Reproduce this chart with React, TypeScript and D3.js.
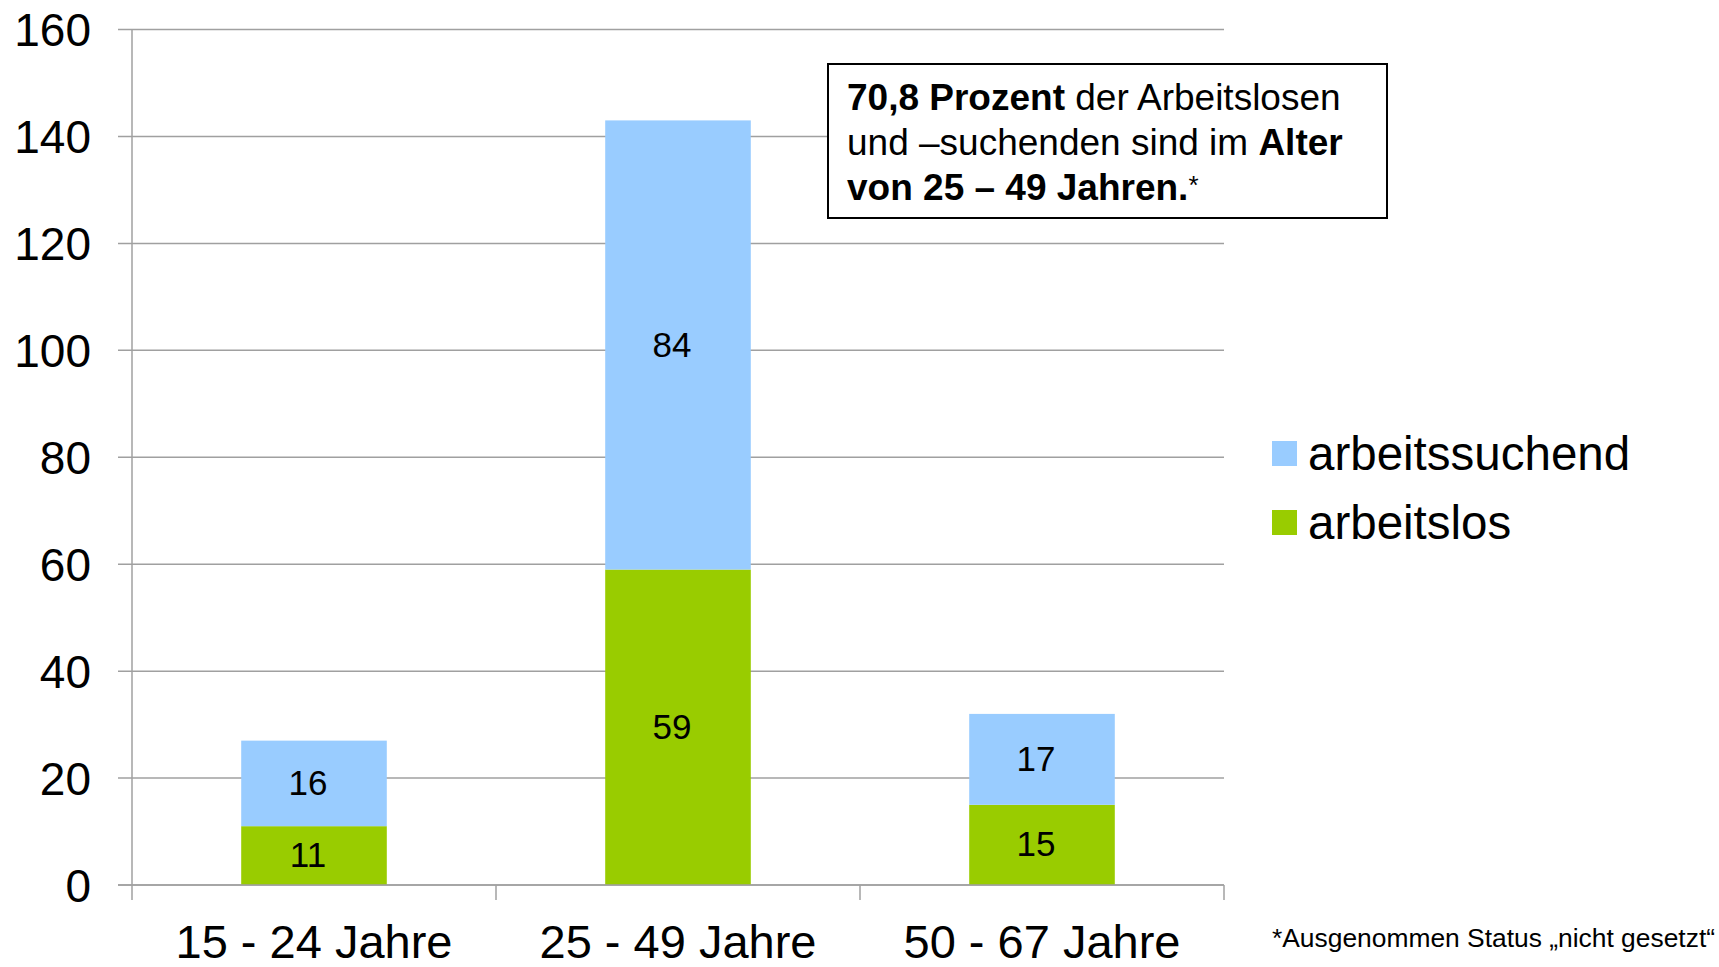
import * as d3 from "d3";
import React from "react";

const categories = ["15 - 24 Jahre", "25 - 49 Jahre", "50 - 67 Jahre"];
const arbeitslos = [11, 59, 15];
const arbeitssuchend = [16, 84, 17];
const yTicks = [0, 20, 40, 60, 80, 100, 120, 140, 160];

const series = [
  { key: "arbeitslos", label: "arbeitslos", values: arbeitslos, color: "#99CC00" },
  { key: "arbeitssuchend", label: "arbeitssuchend", values: arbeitssuchend, color: "#99CCFF" },
];

const W = 1719;
const H = 967;
const FONT = "'Liberation Sans', Arial, sans-serif";

export default function App() {
  const left = 132;
  const right = 1224;
  const top = 29.5;
  const bottom = 885;

  const x = d3.scaleBand<string>().domain(categories).range([left, right]).padding(0);
  const y = d3.scaleLinear().domain([0, 160]).range([bottom, top]);
  const barW = x.bandwidth() * 0.4;

  const rows = categories.map((c, i) => ({ cat: c, arbeitslos: arbeitslos[i], arbeitssuchend: arbeitssuchend[i] }));
  const stacked = d3.stack<any>().keys(series.map((s) => s.key))(rows);

  const legend = [...series].reverse();

  return (
    <svg
      width={W}
      height={H}
      style={{ position: "absolute", left: 0, top: 0, background: "#fff", fontFamily: FONT }}
    >
      {/* grid */}
      {yTicks.map((t) => (
        <g key={t}>
          <line x1={118} x2={right} y1={y(t)} y2={y(t)} stroke="#A0A0A0" strokeWidth={1.5} />
          <text x={91} y={y(t)} dy="0.36em" textAnchor="end" fontSize={46} fill="#000">
            {t}
          </text>
        </g>
      ))}
      <line x1={left} x2={left} y1={top} y2={bottom + 15} stroke="#A0A0A0" strokeWidth={1.5} />
      {categories.map((c) => (
        <line
          key={c}
          x1={(x(c) as number) + x.bandwidth()}
          x2={(x(c) as number) + x.bandwidth()}
          y1={bottom}
          y2={bottom + 15}
          stroke="#A0A0A0"
          strokeWidth={1.5}
        />
      ))}

      {/* bars */}
      {stacked.map((layer, li) => (
        <g key={layer.key} fill={series[li].color}>
          {layer.map((d, i) => {
            const cx = (x(categories[i]) as number) + x.bandwidth() / 2;
            return (
              <g key={i}>
                <rect x={cx - barW / 2} y={y(d[1])} width={barW} height={y(d[0]) - y(d[1])} />
                <text
                  x={cx - 6}
                  y={(y(d[0]) + y(d[1])) / 2}
                  dy="0.33em"
                  textAnchor="middle"
                  fontSize={35}
                  fill="#000"
                >
                  {d[1] - d[0]}
                </text>
              </g>
            );
          })}
        </g>
      ))}
      <line x1={118} x2={right} y1={bottom} y2={bottom} stroke="#A0A0A0" strokeWidth={1.5} />

      {/* x labels */}
      {categories.map((c) => (
        <text key={c} x={(x(c) as number) + x.bandwidth() / 2} y={958} textAnchor="middle" fontSize={47} fill="#000">
          {c}
        </text>
      ))}

      {/* annotation */}
      <rect x={828} y={64} width={559} height={154} fill="#fff" stroke="#000" strokeWidth={2} />
      <text x={847} y={110} fontSize={37} fill="#000">
        <tspan fontWeight="bold">70,8 Prozent</tspan> der Arbeitslosen
      </text>
      <text x={847} y={155} fontSize={37} fill="#000">
        und –suchenden sind im <tspan fontWeight="bold">Alter</tspan>
      </text>
      <text x={847} y={200} fontSize={37} fill="#000">
        <tspan fontWeight="bold">von 25 – 49 Jahren.</tspan>
        <tspan fontSize={26} dy={-6}>*</tspan>
      </text>

      {/* legend */}
      {legend.map((s, i) => (
        <g key={s.key} transform={`translate(1272, ${441 + i * 69})`}>
          <rect width={25} height={25} fill={s.color} />
          <text x={36} y={29} fontSize={47.5} fill="#000">
            {s.label}
          </text>
        </g>
      ))}

      <text x={1272} y={947} fontSize={26.4} fill="#000">
        *Ausgenommen Status „nicht gesetzt“
      </text>
    </svg>
  );
}
